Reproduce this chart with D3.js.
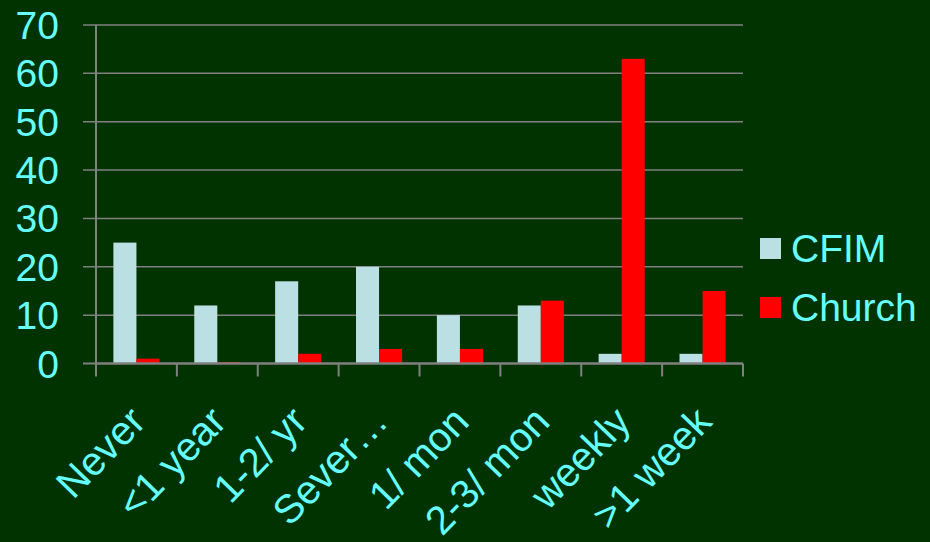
<!DOCTYPE html>
<html><head><meta charset="utf-8">
<script src="https://cdn.jsdelivr.net/npm/d3@7"></script>
<style>html,body{margin:0;padding:0;background:#003300;}svg{display:block;}</style>
</head><body>
<script>
const categories = ["Never", "<1 year", "1-2/ yr", "Sever\u2026", "1/ mon", "2-3/ mon", "weekly", ">1 week"];
const seriesNames = ["CFIM", "Church"];
const cfimValues = [25, 12, 17, 20, 10, 12, 2, 2];
const churchValues = [1, 0.3, 2, 3, 3, 13, 63, 15];
const yTicks = [0, 10, 20, 30, 40, 50, 60, 70];
const colors = ["#BBE0E3", "#FF0000"];

const W = 930, H = 542;
const pLeft = 96, pRight = 743, pTop = 25, pBottom = 363.5;
const textColor = "#66FFFF", gridColor = "#808080";
const font = "'Liberation Sans', Arial, sans-serif";

const svg = d3.select("body").append("svg").attr("width", W).attr("height", H);
svg.append("rect").attr("width", W).attr("height", H).attr("fill", "#003300");

const x0 = d3.scaleBand().domain(categories).range([pLeft, pRight]).padding(0);
const bw = x0.bandwidth();
const x1 = d3.scaleBand().domain(seriesNames).range([bw * 0.215, bw * 0.785]).padding(0);
const y = d3.scaleLinear().domain([0, 70]).range([pBottom, pTop]);

// gridlines
svg.append("g").selectAll("line").data(yTicks.filter(d => d > 0)).join("line")
  .attr("x1", pLeft - 13).attr("x2", pRight)
  .attr("y1", d => y(d)).attr("y2", d => y(d))
  .attr("stroke", gridColor).attr("stroke-width", 1.5);

// bars
const rows = categories.map((c, i) => ({cat: c, vals: [cfimValues[i], churchValues[i]]}));
const g = svg.append("g");
g.selectAll("g").data(rows).join("g")
  .attr("transform", d => `translate(${x0(d.cat)},0)`)
  .selectAll("rect").data(d => d.vals.map((v, j) => ({s: seriesNames[j], v, j}))).join("rect")
  .attr("x", d => x1(d.s)).attr("width", x1.bandwidth())
  .attr("y", d => y(d.v)).attr("height", d => y(0) - y(d.v))
  .attr("fill", d => colors[d.j]);

// left axis line + ticks
svg.append("line").attr("x1", pLeft).attr("x2", pLeft).attr("y1", pTop).attr("y2", pBottom)
  .attr("stroke", gridColor).attr("stroke-width", 2);
svg.append("line").attr("x1", pLeft - 13).attr("x2", pLeft).attr("y1", pBottom).attr("y2", pBottom)
  .attr("stroke", gridColor).attr("stroke-width", 2);
// bottom axis
svg.append("line").attr("x1", pLeft).attr("x2", pRight).attr("y1", pBottom).attr("y2", pBottom)
  .attr("stroke", gridColor).attr("stroke-width", 2.5);
const bounds = categories.map(c => x0(c)).concat([pRight]);
svg.append("g").selectAll("line").data(bounds).join("line")
  .attr("x1", d => d).attr("x2", d => d).attr("y1", pBottom).attr("y2", pBottom + 13)
  .attr("stroke", gridColor).attr("stroke-width", 2);

// y labels
svg.append("g").selectAll("text").data(yTicks).join("text")
  .attr("x", 59).attr("y", d => y(d)).attr("dy", "0.36em")
  .attr("text-anchor", "end").attr("fill", textColor)
  .attr("font-family", font).attr("font-size", 39).text(d => d);

// x labels
svg.append("g").selectAll("text").data(categories).join("text")
  .attr("text-anchor", "end").attr("fill", textColor)
  .attr("font-family", font).attr("font-size", 40)
  .attr("transform", d => `translate(${x0(d) + bw / 2 + 11},${pBottom + 60}) rotate(-46)`)
  .text(d => d);

// legend
const leg = svg.append("g");
seriesNames.forEach((s, i) => {
  const yy = 238 + i * 59;
  leg.append("rect").attr("x", 760).attr("y", yy).attr("width", 21).attr("height", 21).attr("fill", colors[i]);
  leg.append("text").attr("x", 791).attr("y", yy + 24).attr("fill", textColor)
    .attr("font-family", font).attr("font-size", 39).text(s);
});
</script>
</body></html>
